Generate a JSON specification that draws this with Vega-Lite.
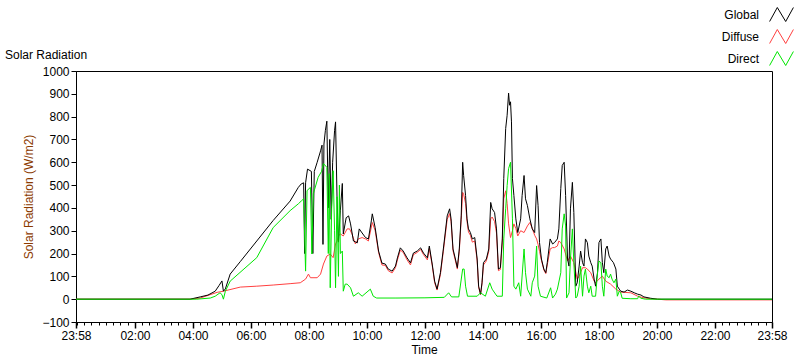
{
"$schema": "https://vega.github.io/schema/vega-lite/v6.json",
"width": 696, "height": 251,
"autosize": {"type": "none"},
"padding": {"left": 76, "top": 71, "right": 28, "bottom": 39},
"background": "white",
"title": {"text": "Solar Radiation", "anchor": "start", "frame": "group", "dx": -71, "offset": -64, "baseline": "alphabetic", "fontSize": 12, "fontWeight": "normal", "font": "Liberation Sans", "color": "#000"},
"config": {
  "font": "Liberation Sans",
  "view": {"stroke": "#000", "strokeWidth": 1},
  "axisY": {"labelOverlap": false, "format": "d"},
  "legend": {"orient": "none", "legendX": 698, "legendY": -64, "padding": 0, "symbolType": "M-1.7,1L-0.6,-1L0.6,1L1.7,-1", "symbolSize": 196, "symbolStrokeWidth": 1, "labelAlign": "right", "labelOffset": -30, "rowPadding": 3, "labelFontSize": 12, "labelFont": "Liberation Sans", "labelColor": "#000"}
},
"data": {"values": [
{"s":"Diffuse","t":"2024-01-01T23:58","v":0},{"s":"Diffuse","t":"2024-01-02T03:54","v":0},{"s":"Diffuse","t":"2024-01-02T04:15","v":5},{"s":"Diffuse","t":"2024-01-02T04:50","v":30},{"s":"Diffuse","t":"2024-01-02T05:03","v":35},{"s":"Diffuse","t":"2024-01-02T05:38","v":53},{"s":"Diffuse","t":"2024-01-02T06:12","v":57},{"s":"Diffuse","t":"2024-01-02T06:46","v":62},{"s":"Diffuse","t":"2024-01-02T07:21","v":68},{"s":"Diffuse","t":"2024-01-02T07:42","v":72},{"s":"Diffuse","t":"2024-01-02T07:53","v":88},{"s":"Diffuse","t":"2024-01-02T07:59","v":110},{"s":"Diffuse","t":"2024-01-02T08:03","v":94},{"s":"Diffuse","t":"2024-01-02T08:17","v":94},{"s":"Diffuse","t":"2024-01-02T08:24","v":110},{"s":"Diffuse","t":"2024-01-02T08:30","v":154},{"s":"Diffuse","t":"2024-01-02T08:37","v":189},{"s":"Diffuse","t":"2024-01-02T08:44","v":198},{"s":"Diffuse","t":"2024-01-02T08:50","v":182},{"s":"Diffuse","t":"2024-01-02T08:55","v":242},{"s":"Diffuse","t":"2024-01-02T08:58","v":255},{"s":"Diffuse","t":"2024-01-02T09:01","v":277},{"s":"Diffuse","t":"2024-01-02T09:05","v":286},{"s":"Diffuse","t":"2024-01-02T09:11","v":277},{"s":"Diffuse","t":"2024-01-02T09:19","v":308},{"s":"Diffuse","t":"2024-01-02T09:24","v":308},{"s":"Diffuse","t":"2024-01-02T09:29","v":286},{"s":"Diffuse","t":"2024-01-02T09:36","v":242},{"s":"Diffuse","t":"2024-01-02T09:42","v":264},{"s":"Diffuse","t":"2024-01-02T09:50","v":270},{"s":"Diffuse","t":"2024-01-02T09:57","v":264},{"s":"Diffuse","t":"2024-01-02T10:03","v":255},{"s":"Diffuse","t":"2024-01-02T10:11","v":336},{"s":"Diffuse","t":"2024-01-02T10:17","v":300},{"s":"Diffuse","t":"2024-01-02T10:24","v":205},{"s":"Diffuse","t":"2024-01-02T10:31","v":150},{"s":"Diffuse","t":"2024-01-02T10:38","v":148},{"s":"Diffuse","t":"2024-01-02T10:44","v":125},{"s":"Diffuse","t":"2024-01-02T10:52","v":115},{"s":"Diffuse","t":"2024-01-02T10:59","v":138},{"s":"Diffuse","t":"2024-01-02T11:03","v":172},{"s":"Diffuse","t":"2024-01-02T11:09","v":215},{"s":"Diffuse","t":"2024-01-02T11:15","v":205},{"s":"Diffuse","t":"2024-01-02T11:23","v":172},{"s":"Diffuse","t":"2024-01-02T11:30","v":150},{"s":"Diffuse","t":"2024-01-02T11:36","v":195},{"s":"Diffuse","t":"2024-01-02T11:44","v":205},{"s":"Diffuse","t":"2024-01-02T11:51","v":218},{"s":"Diffuse","t":"2024-01-02T11:57","v":195},{"s":"Diffuse","t":"2024-01-02T12:05","v":172},{"s":"Diffuse","t":"2024-01-02T12:09","v":222},{"s":"Diffuse","t":"2024-01-02T12:15","v":148},{"s":"Diffuse","t":"2024-01-02T12:20","v":72},{"s":"Diffuse","t":"2024-01-02T12:25","v":40},{"s":"Diffuse","t":"2024-01-02T12:32","v":108},{"s":"Diffuse","t":"2024-01-02T12:38","v":210},{"s":"Diffuse","t":"2024-01-02T12:46","v":350},{"s":"Diffuse","t":"2024-01-02T12:51","v":375},{"s":"Diffuse","t":"2024-01-02T12:54","v":340},{"s":"Diffuse","t":"2024-01-02T12:58","v":212},{"s":"Diffuse","t":"2024-01-02T13:03","v":168},{"s":"Diffuse","t":"2024-01-02T13:07","v":132},{"s":"Diffuse","t":"2024-01-02T13:11","v":210},{"s":"Diffuse","t":"2024-01-02T13:15","v":350},{"s":"Diffuse","t":"2024-01-02T13:18","v":468},{"s":"Diffuse","t":"2024-01-02T13:20","v":460},{"s":"Diffuse","t":"2024-01-02T13:24","v":420},{"s":"Diffuse","t":"2024-01-02T13:27","v":340},{"s":"Diffuse","t":"2024-01-02T13:30","v":295},{"s":"Diffuse","t":"2024-01-02T13:34","v":280},{"s":"Diffuse","t":"2024-01-02T13:38","v":250},{"s":"Diffuse","t":"2024-01-02T13:43","v":255},{"s":"Diffuse","t":"2024-01-02T13:48","v":168},{"s":"Diffuse","t":"2024-01-02T13:51","v":52},{"s":"Diffuse","t":"2024-01-02T13:55","v":20},{"s":"Diffuse","t":"2024-01-02T13:58","v":68},{"s":"Diffuse","t":"2024-01-02T14:01","v":150},{"s":"Diffuse","t":"2024-01-02T14:07","v":168},{"s":"Diffuse","t":"2024-01-02T14:12","v":210},{"s":"Diffuse","t":"2024-01-02T14:16","v":352},{"s":"Diffuse","t":"2024-01-02T14:19","v":360},{"s":"Diffuse","t":"2024-01-02T14:24","v":340},{"s":"Diffuse","t":"2024-01-02T14:28","v":290},{"s":"Diffuse","t":"2024-01-02T14:32","v":125},{"s":"Diffuse","t":"2024-01-02T14:36","v":130},{"s":"Diffuse","t":"2024-01-02T14:40","v":250},{"s":"Diffuse","t":"2024-01-02T14:43","v":440},{"s":"Diffuse","t":"2024-01-02T14:47","v":475},{"s":"Diffuse","t":"2024-01-02T14:50","v":420},{"s":"Diffuse","t":"2024-01-02T14:53","v":330},{"s":"Diffuse","t":"2024-01-02T14:57","v":270},{"s":"Diffuse","t":"2024-01-02T15:01","v":300},{"s":"Diffuse","t":"2024-01-02T15:04","v":330},{"s":"Diffuse","t":"2024-01-02T15:08","v":310},{"s":"Diffuse","t":"2024-01-02T15:12","v":277},{"s":"Diffuse","t":"2024-01-02T15:18","v":300},{"s":"Diffuse","t":"2024-01-02T15:25","v":292},{"s":"Diffuse","t":"2024-01-02T15:32","v":321},{"s":"Diffuse","t":"2024-01-02T15:37","v":336},{"s":"Diffuse","t":"2024-01-02T15:42","v":310},{"s":"Diffuse","t":"2024-01-02T15:47","v":280},{"s":"Diffuse","t":"2024-01-02T15:51","v":264},{"s":"Diffuse","t":"2024-01-02T15:54","v":240},{"s":"Diffuse","t":"2024-01-02T15:57","v":210},{"s":"Diffuse","t":"2024-01-02T16:01","v":170},{"s":"Diffuse","t":"2024-01-02T16:06","v":128},{"s":"Diffuse","t":"2024-01-02T16:10","v":112},{"s":"Diffuse","t":"2024-01-02T16:13","v":150},{"s":"Diffuse","t":"2024-01-02T16:19","v":220},{"s":"Diffuse","t":"2024-01-02T16:24","v":226},{"s":"Diffuse","t":"2024-01-02T16:28","v":226},{"s":"Diffuse","t":"2024-01-02T16:34","v":233},{"s":"Diffuse","t":"2024-01-02T16:37","v":255},{"s":"Diffuse","t":"2024-01-02T16:41","v":248},{"s":"Diffuse","t":"2024-01-02T16:48","v":220},{"s":"Diffuse","t":"2024-01-02T16:55","v":167},{"s":"Diffuse","t":"2024-01-02T17:01","v":189},{"s":"Diffuse","t":"2024-01-02T17:08","v":160},{"s":"Diffuse","t":"2024-01-02T17:15","v":88},{"s":"Diffuse","t":"2024-01-02T17:19","v":101},{"s":"Diffuse","t":"2024-01-02T17:26","v":138},{"s":"Diffuse","t":"2024-01-02T17:32","v":138},{"s":"Diffuse","t":"2024-01-02T17:36","v":132},{"s":"Diffuse","t":"2024-01-02T17:43","v":116},{"s":"Diffuse","t":"2024-01-02T17:50","v":79},{"s":"Diffuse","t":"2024-01-02T17:53","v":72},{"s":"Diffuse","t":"2024-01-02T18:00","v":88},{"s":"Diffuse","t":"2024-01-02T18:07","v":101},{"s":"Diffuse","t":"2024-01-02T18:14","v":79},{"s":"Diffuse","t":"2024-01-02T18:24","v":66},{"s":"Diffuse","t":"2024-01-02T18:35","v":44},{"s":"Diffuse","t":"2024-01-02T18:45","v":31},{"s":"Diffuse","t":"2024-01-02T19:06","v":28},{"s":"Diffuse","t":"2024-01-02T19:20","v":13},{"s":"Diffuse","t":"2024-01-02T19:33","v":6},{"s":"Diffuse","t":"2024-01-02T19:47","v":2},{"s":"Diffuse","t":"2024-01-02T20:01","v":0},{"s":"Diffuse","t":"2024-01-02T20:18","v":-3},{"s":"Diffuse","t":"2024-01-02T23:58","v":-3},
{"s":"Global","t":"2024-01-01T23:58","v":0},{"s":"Global","t":"2024-01-02T03:54","v":0},{"s":"Global","t":"2024-01-02T04:15","v":10},{"s":"Global","t":"2024-01-02T04:31","v":18},{"s":"Global","t":"2024-01-02T04:46","v":35},{"s":"Global","t":"2024-01-02T04:54","v":60},{"s":"Global","t":"2024-01-02T05:00","v":80},{"s":"Global","t":"2024-01-02T05:03","v":35},{"s":"Global","t":"2024-01-02T05:07","v":45},{"s":"Global","t":"2024-01-02T05:17","v":110},{"s":"Global","t":"2024-01-02T05:38","v":165},{"s":"Global","t":"2024-01-02T06:12","v":255},{"s":"Global","t":"2024-01-02T06:46","v":345},{"s":"Global","t":"2024-01-02T07:21","v":430},{"s":"Global","t":"2024-01-02T07:38","v":490},{"s":"Global","t":"2024-01-02T07:44","v":505},{"s":"Global","t":"2024-01-02T07:49","v":510},{"s":"Global","t":"2024-01-02T07:51","v":200},{"s":"Global","t":"2024-01-02T07:53","v":510},{"s":"Global","t":"2024-01-02T07:57","v":570},{"s":"Global","t":"2024-01-02T08:05","v":560},{"s":"Global","t":"2024-01-02T08:08","v":200},{"s":"Global","t":"2024-01-02T08:11","v":560},{"s":"Global","t":"2024-01-02T08:17","v":600},{"s":"Global","t":"2024-01-02T08:24","v":650},{"s":"Global","t":"2024-01-02T08:27","v":675},{"s":"Global","t":"2024-01-02T08:29","v":240},{"s":"Global","t":"2024-01-02T08:31","v":680},{"s":"Global","t":"2024-01-02T08:34","v":740},{"s":"Global","t":"2024-01-02T08:37","v":780},{"s":"Global","t":"2024-01-02T08:40","v":400},{"s":"Global","t":"2024-01-02T08:43","v":700},{"s":"Global","t":"2024-01-02T08:46","v":350},{"s":"Global","t":"2024-01-02T08:49","v":600},{"s":"Global","t":"2024-01-02T08:53","v":740},{"s":"Global","t":"2024-01-02T08:55","v":777},{"s":"Global","t":"2024-01-02T08:58","v":450},{"s":"Global","t":"2024-01-02T09:01","v":250},{"s":"Global","t":"2024-01-02T09:05","v":390},{"s":"Global","t":"2024-01-02T09:09","v":507},{"s":"Global","t":"2024-01-02T09:11","v":286},{"s":"Global","t":"2024-01-02T09:17","v":357},{"s":"Global","t":"2024-01-02T09:22","v":365},{"s":"Global","t":"2024-01-02T09:26","v":330},{"s":"Global","t":"2024-01-02T09:32","v":255},{"s":"Global","t":"2024-01-02T09:40","v":247},{"s":"Global","t":"2024-01-02T09:44","v":308},{"s":"Global","t":"2024-01-02T09:50","v":290},{"s":"Global","t":"2024-01-02T09:57","v":270},{"s":"Global","t":"2024-01-02T10:03","v":264},{"s":"Global","t":"2024-01-02T10:09","v":343},{"s":"Global","t":"2024-01-02T10:11","v":374},{"s":"Global","t":"2024-01-02T10:17","v":313},{"s":"Global","t":"2024-01-02T10:24","v":211},{"s":"Global","t":"2024-01-02T10:31","v":158},{"s":"Global","t":"2024-01-02T10:38","v":154},{"s":"Global","t":"2024-01-02T10:44","v":132},{"s":"Global","t":"2024-01-02T10:52","v":123},{"s":"Global","t":"2024-01-02T10:59","v":145},{"s":"Global","t":"2024-01-02T11:03","v":181},{"s":"Global","t":"2024-01-02T11:09","v":225},{"s":"Global","t":"2024-01-02T11:15","v":211},{"s":"Global","t":"2024-01-02T11:23","v":181},{"s":"Global","t":"2024-01-02T11:30","v":159},{"s":"Global","t":"2024-01-02T11:36","v":202},{"s":"Global","t":"2024-01-02T11:44","v":211},{"s":"Global","t":"2024-01-02T11:51","v":225},{"s":"Global","t":"2024-01-02T11:57","v":202},{"s":"Global","t":"2024-01-02T12:05","v":181},{"s":"Global","t":"2024-01-02T12:09","v":233},{"s":"Global","t":"2024-01-02T12:15","v":154},{"s":"Global","t":"2024-01-02T12:20","v":79},{"s":"Global","t":"2024-01-02T12:25","v":44},{"s":"Global","t":"2024-01-02T12:32","v":116},{"s":"Global","t":"2024-01-02T12:38","v":220},{"s":"Global","t":"2024-01-02T12:46","v":365},{"s":"Global","t":"2024-01-02T12:51","v":396},{"s":"Global","t":"2024-01-02T12:54","v":352},{"s":"Global","t":"2024-01-02T12:58","v":220},{"s":"Global","t":"2024-01-02T13:03","v":176},{"s":"Global","t":"2024-01-02T13:07","v":138},{"s":"Global","t":"2024-01-02T13:11","v":220},{"s":"Global","t":"2024-01-02T13:15","v":365},{"s":"Global","t":"2024-01-02T13:18","v":600},{"s":"Global","t":"2024-01-02T13:20","v":542},{"s":"Global","t":"2024-01-02T13:24","v":454},{"s":"Global","t":"2024-01-02T13:27","v":352},{"s":"Global","t":"2024-01-02T13:30","v":308},{"s":"Global","t":"2024-01-02T13:34","v":292},{"s":"Global","t":"2024-01-02T13:38","v":264},{"s":"Global","t":"2024-01-02T13:43","v":270},{"s":"Global","t":"2024-01-02T13:48","v":176},{"s":"Global","t":"2024-01-02T13:51","v":57},{"s":"Global","t":"2024-01-02T13:55","v":22},{"s":"Global","t":"2024-01-02T13:58","v":72},{"s":"Global","t":"2024-01-02T14:01","v":160},{"s":"Global","t":"2024-01-02T14:07","v":176},{"s":"Global","t":"2024-01-02T14:12","v":220},{"s":"Global","t":"2024-01-02T14:16","v":424},{"s":"Global","t":"2024-01-02T14:19","v":396},{"s":"Global","t":"2024-01-02T14:24","v":380},{"s":"Global","t":"2024-01-02T14:28","v":308},{"s":"Global","t":"2024-01-02T14:32","v":132},{"s":"Global","t":"2024-01-02T14:36","v":138},{"s":"Global","t":"2024-01-02T14:40","v":264},{"s":"Global","t":"2024-01-02T14:43","v":528},{"s":"Global","t":"2024-01-02T14:47","v":748},{"s":"Global","t":"2024-01-02T14:50","v":806},{"s":"Global","t":"2024-01-02T14:53","v":903},{"s":"Global","t":"2024-01-02T14:55","v":850},{"s":"Global","t":"2024-01-02T14:57","v":865},{"s":"Global","t":"2024-01-02T14:59","v":777},{"s":"Global","t":"2024-01-02T15:01","v":528},{"s":"Global","t":"2024-01-02T15:04","v":454},{"s":"Global","t":"2024-01-02T15:08","v":352},{"s":"Global","t":"2024-01-02T15:12","v":292},{"s":"Global","t":"2024-01-02T15:18","v":352},{"s":"Global","t":"2024-01-02T15:21","v":454},{"s":"Global","t":"2024-01-02T15:25","v":542},{"s":"Global","t":"2024-01-02T15:28","v":440},{"s":"Global","t":"2024-01-02T15:32","v":410},{"s":"Global","t":"2024-01-02T15:37","v":352},{"s":"Global","t":"2024-01-02T15:42","v":308},{"s":"Global","t":"2024-01-02T15:47","v":292},{"s":"Global","t":"2024-01-02T15:51","v":498},{"s":"Global","t":"2024-01-02T15:54","v":410},{"s":"Global","t":"2024-01-02T15:57","v":248},{"s":"Global","t":"2024-01-02T16:01","v":176},{"s":"Global","t":"2024-01-02T16:06","v":132},{"s":"Global","t":"2024-01-02T16:10","v":116},{"s":"Global","t":"2024-01-02T16:13","v":160},{"s":"Global","t":"2024-01-02T16:19","v":264},{"s":"Global","t":"2024-01-02T16:24","v":242},{"s":"Global","t":"2024-01-02T16:28","v":248},{"s":"Global","t":"2024-01-02T16:34","v":264},{"s":"Global","t":"2024-01-02T16:37","v":308},{"s":"Global","t":"2024-01-02T16:41","v":485},{"s":"Global","t":"2024-01-02T16:44","v":586},{"s":"Global","t":"2024-01-02T16:48","v":600},{"s":"Global","t":"2024-01-02T16:51","v":454},{"s":"Global","t":"2024-01-02T16:55","v":176},{"s":"Global","t":"2024-01-02T16:58","v":145},{"s":"Global","t":"2024-01-02T17:01","v":396},{"s":"Global","t":"2024-01-02T17:05","v":512},{"s":"Global","t":"2024-01-02T17:08","v":380},{"s":"Global","t":"2024-01-02T17:12","v":57},{"s":"Global","t":"2024-01-02T17:15","v":72},{"s":"Global","t":"2024-01-02T17:19","v":145},{"s":"Global","t":"2024-01-02T17:22","v":211},{"s":"Global","t":"2024-01-02T17:26","v":160},{"s":"Global","t":"2024-01-02T17:29","v":145},{"s":"Global","t":"2024-01-02T17:32","v":264},{"s":"Global","t":"2024-01-02T17:36","v":248},{"s":"Global","t":"2024-01-02T17:39","v":189},{"s":"Global","t":"2024-01-02T17:43","v":160},{"s":"Global","t":"2024-01-02T17:46","v":145},{"s":"Global","t":"2024-01-02T17:50","v":88},{"s":"Global","t":"2024-01-02T17:53","v":57},{"s":"Global","t":"2024-01-02T17:57","v":116},{"s":"Global","t":"2024-01-02T18:00","v":248},{"s":"Global","t":"2024-01-02T18:04","v":264},{"s":"Global","t":"2024-01-02T18:07","v":160},{"s":"Global","t":"2024-01-02T18:10","v":116},{"s":"Global","t":"2024-01-02T18:14","v":220},{"s":"Global","t":"2024-01-02T18:17","v":233},{"s":"Global","t":"2024-01-02T18:21","v":189},{"s":"Global","t":"2024-01-02T18:24","v":176},{"s":"Global","t":"2024-01-02T18:30","v":160},{"s":"Global","t":"2024-01-02T18:35","v":132},{"s":"Global","t":"2024-01-02T18:38","v":57},{"s":"Global","t":"2024-01-02T18:42","v":44},{"s":"Global","t":"2024-01-02T18:45","v":35},{"s":"Global","t":"2024-01-02T18:52","v":31},{"s":"Global","t":"2024-01-02T18:59","v":40},{"s":"Global","t":"2024-01-02T19:06","v":35},{"s":"Global","t":"2024-01-02T19:13","v":28},{"s":"Global","t":"2024-01-02T19:20","v":22},{"s":"Global","t":"2024-01-02T19:27","v":18},{"s":"Global","t":"2024-01-02T19:33","v":10},{"s":"Global","t":"2024-01-02T19:47","v":4},{"s":"Global","t":"2024-01-02T20:01","v":0},{"s":"Global","t":"2024-01-02T23:58","v":0},
{"s":"Direct","t":"2024-01-01T23:58","v":0},{"s":"Direct","t":"2024-01-02T04:08","v":0},{"s":"Direct","t":"2024-01-02T04:36","v":5},{"s":"Direct","t":"2024-01-02T04:46","v":13},{"s":"Direct","t":"2024-01-02T04:56","v":28},{"s":"Direct","t":"2024-01-02T05:00","v":20},{"s":"Direct","t":"2024-01-02T05:03","v":0},{"s":"Direct","t":"2024-01-02T05:07","v":35},{"s":"Direct","t":"2024-01-02T05:17","v":79},{"s":"Direct","t":"2024-01-02T06:12","v":182},{"s":"Direct","t":"2024-01-02T06:46","v":314},{"s":"Direct","t":"2024-01-02T07:21","v":388},{"s":"Direct","t":"2024-01-02T07:38","v":418},{"s":"Direct","t":"2024-01-02T07:45","v":432},{"s":"Direct","t":"2024-01-02T07:49","v":440},{"s":"Direct","t":"2024-01-02T07:53","v":123},{"s":"Direct","t":"2024-01-02T07:56","v":476},{"s":"Direct","t":"2024-01-02T08:03","v":490},{"s":"Direct","t":"2024-01-02T08:06","v":198},{"s":"Direct","t":"2024-01-02T08:09","v":462},{"s":"Direct","t":"2024-01-02T08:19","v":534},{"s":"Direct","t":"2024-01-02T08:26","v":560},{"s":"Direct","t":"2024-01-02T08:30","v":594},{"s":"Direct","t":"2024-01-02T08:37","v":578},{"s":"Direct","t":"2024-01-02T08:40","v":200},{"s":"Direct","t":"2024-01-02T08:42","v":550},{"s":"Direct","t":"2024-01-02T08:44","v":50},{"s":"Direct","t":"2024-01-02T08:47","v":400},{"s":"Direct","t":"2024-01-02T08:50","v":563},{"s":"Direct","t":"2024-01-02T08:53","v":300},{"s":"Direct","t":"2024-01-02T08:55","v":50},{"s":"Direct","t":"2024-01-02T08:58","v":450},{"s":"Direct","t":"2024-01-02T09:01","v":100},{"s":"Direct","t":"2024-01-02T09:03","v":500},{"s":"Direct","t":"2024-01-02T09:05","v":200},{"s":"Direct","t":"2024-01-02T09:09","v":211},{"s":"Direct","t":"2024-01-02T09:11","v":35},{"s":"Direct","t":"2024-01-02T09:15","v":66},{"s":"Direct","t":"2024-01-02T09:19","v":66},{"s":"Direct","t":"2024-01-02T09:26","v":50},{"s":"Direct","t":"2024-01-02T09:32","v":13},{"s":"Direct","t":"2024-01-02T09:42","v":28},{"s":"Direct","t":"2024-01-02T09:50","v":13},{"s":"Direct","t":"2024-01-02T10:07","v":44},{"s":"Direct","t":"2024-01-02T10:13","v":13},{"s":"Direct","t":"2024-01-02T10:20","v":5},{"s":"Direct","t":"2024-01-02T11:00","v":5},{"s":"Direct","t":"2024-01-02T12:00","v":6},{"s":"Direct","t":"2024-01-02T12:40","v":8},{"s":"Direct","t":"2024-01-02T12:49","v":28},{"s":"Direct","t":"2024-01-02T12:55","v":10},{"s":"Direct","t":"2024-01-02T13:10","v":10},{"s":"Direct","t":"2024-01-02T13:18","v":132},{"s":"Direct","t":"2024-01-02T13:21","v":132},{"s":"Direct","t":"2024-01-02T13:24","v":57},{"s":"Direct","t":"2024-01-02T13:28","v":13},{"s":"Direct","t":"2024-01-02T13:48","v":13},{"s":"Direct","t":"2024-01-02T13:55","v":28},{"s":"Direct","t":"2024-01-02T14:05","v":13},{"s":"Direct","t":"2024-01-02T14:14","v":72},{"s":"Direct","t":"2024-01-02T14:19","v":44},{"s":"Direct","t":"2024-01-02T14:29","v":13},{"s":"Direct","t":"2024-01-02T14:40","v":13},{"s":"Direct","t":"2024-01-02T14:43","v":264},{"s":"Direct","t":"2024-01-02T14:47","v":396},{"s":"Direct","t":"2024-01-02T14:50","v":498},{"s":"Direct","t":"2024-01-02T14:53","v":572},{"s":"Direct","t":"2024-01-02T14:57","v":600},{"s":"Direct","t":"2024-01-02T15:01","v":352},{"s":"Direct","t":"2024-01-02T15:04","v":57},{"s":"Direct","t":"2024-01-02T15:08","v":44},{"s":"Direct","t":"2024-01-02T15:14","v":72},{"s":"Direct","t":"2024-01-02T15:18","v":13},{"s":"Direct","t":"2024-01-02T15:25","v":220},{"s":"Direct","t":"2024-01-02T15:28","v":116},{"s":"Direct","t":"2024-01-02T15:32","v":44},{"s":"Direct","t":"2024-01-02T15:39","v":13},{"s":"Direct","t":"2024-01-02T15:42","v":72},{"s":"Direct","t":"2024-01-02T15:47","v":101},{"s":"Direct","t":"2024-01-02T15:51","v":233},{"s":"Direct","t":"2024-01-02T15:54","v":57},{"s":"Direct","t":"2024-01-02T15:59","v":13},{"s":"Direct","t":"2024-01-02T16:12","v":5},{"s":"Direct","t":"2024-01-02T16:20","v":50},{"s":"Direct","t":"2024-01-02T16:24","v":5},{"s":"Direct","t":"2024-01-02T16:30","v":22},{"s":"Direct","t":"2024-01-02T16:34","v":44},{"s":"Direct","t":"2024-01-02T16:41","v":116},{"s":"Direct","t":"2024-01-02T16:44","v":308},{"s":"Direct","t":"2024-01-02T16:48","v":374},{"s":"Direct","t":"2024-01-02T16:51","v":321},{"s":"Direct","t":"2024-01-02T16:53","v":5},{"s":"Direct","t":"2024-01-02T16:58","v":28},{"s":"Direct","t":"2024-01-02T17:01","v":176},{"s":"Direct","t":"2024-01-02T17:05","v":308},{"s":"Direct","t":"2024-01-02T17:08","v":160},{"s":"Direct","t":"2024-01-02T17:12","v":5},{"s":"Direct","t":"2024-01-02T17:15","v":13},{"s":"Direct","t":"2024-01-02T17:19","v":57},{"s":"Direct","t":"2024-01-02T17:22","v":145},{"s":"Direct","t":"2024-01-02T17:26","v":13},{"s":"Direct","t":"2024-01-02T17:29","v":101},{"s":"Direct","t":"2024-01-02T17:32","v":132},{"s":"Direct","t":"2024-01-02T17:36","v":57},{"s":"Direct","t":"2024-01-02T17:39","v":28},{"s":"Direct","t":"2024-01-02T17:43","v":57},{"s":"Direct","t":"2024-01-02T17:46","v":13},{"s":"Direct","t":"2024-01-02T17:53","v":13},{"s":"Direct","t":"2024-01-02T17:57","v":116},{"s":"Direct","t":"2024-01-02T18:00","v":167},{"s":"Direct","t":"2024-01-02T18:04","v":160},{"s":"Direct","t":"2024-01-02T18:07","v":57},{"s":"Direct","t":"2024-01-02T18:10","v":13},{"s":"Direct","t":"2024-01-02T18:14","v":132},{"s":"Direct","t":"2024-01-02T18:17","v":101},{"s":"Direct","t":"2024-01-02T18:21","v":94},{"s":"Direct","t":"2024-01-02T18:24","v":110},{"s":"Direct","t":"2024-01-02T18:27","v":88},{"s":"Direct","t":"2024-01-02T18:31","v":72},{"s":"Direct","t":"2024-01-02T18:35","v":88},{"s":"Direct","t":"2024-01-02T18:38","v":13},{"s":"Direct","t":"2024-01-02T18:42","v":35},{"s":"Direct","t":"2024-01-02T18:45","v":28},{"s":"Direct","t":"2024-01-02T18:48","v":4},{"s":"Direct","t":"2024-01-02T19:06","v":2},{"s":"Direct","t":"2024-01-02T19:20","v":2},{"s":"Direct","t":"2024-01-02T19:22","v":13},{"s":"Direct","t":"2024-01-02T19:27","v":4},{"s":"Direct","t":"2024-01-02T19:36","v":0},{"s":"Direct","t":"2024-01-02T23:58","v":0}
]},
"layer": [
  {
    "transform": [{"filter": "datum.s === 'Diffuse'"}],
    "mark": {"type": "line", "strokeWidth": 1},
    "encoding": {
      "x": {"field": "t", "type": "temporal", "scale": {"domain": [{"year": 2024, "month": 1, "date": 1, "hours": 23, "minutes": 58}, {"year": 2024, "month": 1, "date": 2, "hours": 23, "minutes": 58}]},
        "axis": {"orient": "bottom", "values": {"expr": "sequence(+datetime(2024,0,2,0,0), +datetime(2024,0,2,23,50), 900000)"}, "labels": false, "domain": false, "grid": false, "title": null, "tickSize": 3, "tickWidth": 1, "tickColor": "#000"}},
      "y": {"field": "v", "type": "quantitative", "scale": {"domain": [-100, 1000], "nice": false},
        "axis": {"values": [-100, 0, 100, 200, 300, 400, 500, 600, 700, 800, 900, 1000], "format": "d", "labelOverlap": false, "tickSize": 5, "tickColor": "#000", "domainColor": "#000", "grid": false, "labelFontSize": 12, "labelColor": "#000", "labelPadding": 2, "title": "Solar Radiation (W/m2)", "titleColor": "#8B3A00", "titleFontWeight": "normal", "titleFontSize": 12, "titlePadding": 6}},
      "color": {"field": "s", "type": "nominal", "title": null, "scale": {"domain": ["Global", "Diffuse", "Direct"], "range": ["#000000", "#ff4040", "#00e600"]}}
    }
  },
  {
    "transform": [{"filter": "datum.s === 'Global'"}],
    "mark": {"type": "line", "strokeWidth": 1},
    "encoding": {
      "x": {"field": "t", "type": "temporal",
        "axis": {"orient": "bottom", "values": [{"year": 2024, "month": 1, "date": 1, "hours": 23, "minutes": 58}, {"year": 2024, "month": 1, "date": 2, "hours": 2}, {"year": 2024, "month": 1, "date": 2, "hours": 4}, {"year": 2024, "month": 1, "date": 2, "hours": 6}, {"year": 2024, "month": 1, "date": 2, "hours": 8}, {"year": 2024, "month": 1, "date": 2, "hours": 10}, {"year": 2024, "month": 1, "date": 2, "hours": 12}, {"year": 2024, "month": 1, "date": 2, "hours": 14}, {"year": 2024, "month": 1, "date": 2, "hours": 16}, {"year": 2024, "month": 1, "date": 2, "hours": 18}, {"year": 2024, "month": 1, "date": 2, "hours": 20}, {"year": 2024, "month": 1, "date": 2, "hours": 22}, {"year": 2024, "month": 1, "date": 2, "hours": 23, "minutes": 58}],
          "format": "%H:%M", "labelFontSize": 12, "labelColor": "#000", "labelFlush": false, "labelOverlap": false, "labelPadding": 2, "tickSize": 6, "tickWidth": 1.5, "tickColor": "#000", "domainColor": "#000", "grid": false, "title": "Time", "titleFontWeight": "normal", "titleFontSize": 12, "titlePadding": 3}},
      "y": {"field": "v", "type": "quantitative",
        "axis": {"values": [-100, 0, 100, 200, 300, 400, 500, 600, 700, 800, 900, 1000], "format": "d", "labelOverlap": false, "tickSize": 5, "tickColor": "#000", "domainColor": "#000", "grid": false, "labelFontSize": 12, "labelColor": "#000", "labelPadding": 2, "title": "Solar Radiation (W/m2)", "titleColor": "#8B3A00", "titleFontWeight": "normal", "titleFontSize": 12, "titlePadding": 6}},
      "color": {"field": "s", "type": "nominal", "title": null}
    }
  },
  {
    "transform": [{"filter": "datum.s === 'Direct'"}],
    "mark": {"type": "line", "strokeWidth": 1},
    "encoding": {
      "x": {"field": "t", "type": "temporal", "axis": null},
      "y": {"field": "v", "type": "quantitative",
        "axis": {"values": [-100, 0, 100, 200, 300, 400, 500, 600, 700, 800, 900, 1000], "format": "d", "labelOverlap": false, "tickSize": 5, "tickColor": "#000", "domainColor": "#000", "grid": false, "labelFontSize": 12, "labelColor": "#000", "labelPadding": 2, "title": "Solar Radiation (W/m2)", "titleColor": "#8B3A00", "titleFontWeight": "normal", "titleFontSize": 12, "titlePadding": 6}},
      "color": {"field": "s", "type": "nominal", "title": null}
    }
  }
],
"resolve": {"axis": {"x": "independent"}}
}
